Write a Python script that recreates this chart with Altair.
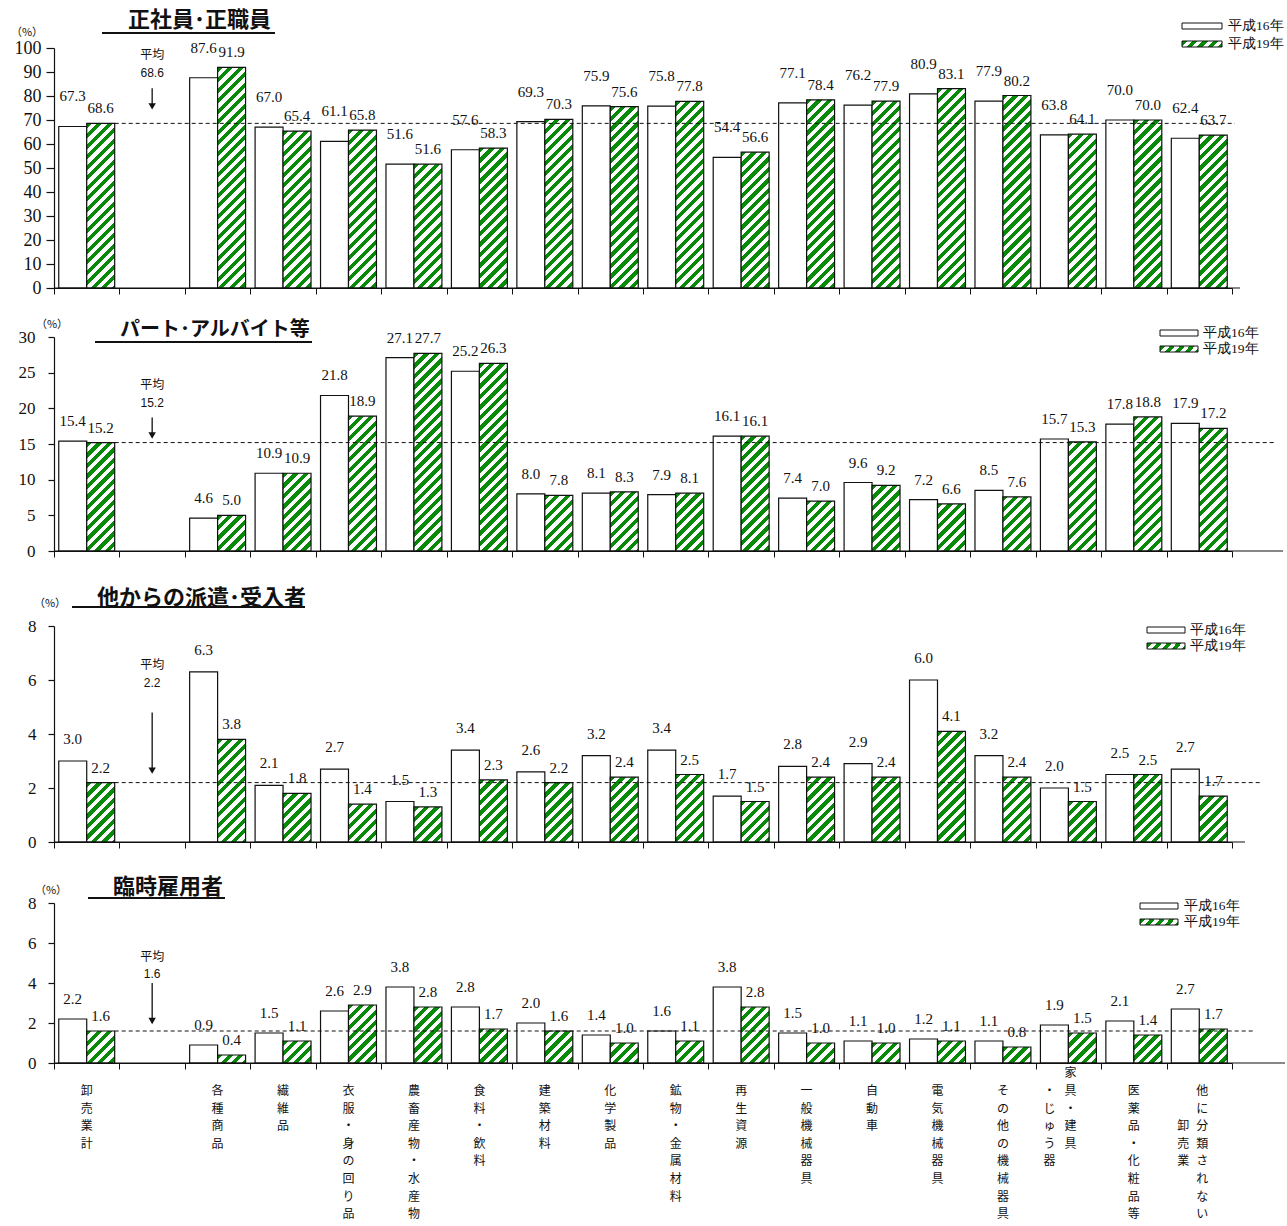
import altair as alt

SERIF = "Liberation Serif"
SANS = "Noto Sans CJK JP"
LATIN_SANS = "Liberation Sans"
INK = "#111111"
GREEN = "#078a07"

# x slots: the total, an empty slot, then the sixteen industries
categories = ["卸売業計", " ", "各種商品", "繊維品", "衣服・身の回り品", "農畜産物・水産物",
              "食料・飲料", "建築材料", "化学製品", "鉱物・金属材料", "再生資源", "一般機械器具",
              "自動車", "電気機械器具", "その他の機械器具", "家具・建具・じゅう器",
              "医薬品・化粧品等", "他に分類されない卸売業"]
industries = [c for c in categories if c.strip()]
years = ["平成16年", "平成19年"]

regular_h16 = [67.3, 87.6, 67.0, 61.1, 51.6, 57.6, 69.3, 75.9, 75.8, 54.4, 77.1, 76.2, 80.9, 77.9, 63.8, 70.0, 62.4]
regular_h19 = [68.6, 91.9, 65.4, 65.8, 51.6, 58.3, 70.3, 75.6, 77.8, 56.6, 78.4, 77.9, 83.1, 80.2, 64.1, 70.0, 63.7]
part_h16 = [15.4, 4.6, 10.9, 21.8, 27.1, 25.2, 8.0, 8.1, 7.9, 16.1, 7.4, 9.6, 7.2, 8.5, 15.7, 17.8, 17.9]
part_h19 = [15.2, 5.0, 10.9, 18.9, 27.7, 26.3, 7.8, 8.3, 8.1, 16.1, 7.0, 9.2, 6.6, 7.6, 15.3, 18.8, 17.2]
dispatch_h16 = [3.0, 6.3, 2.1, 2.7, 1.5, 3.4, 2.6, 3.2, 3.4, 1.7, 2.8, 2.9, 6.0, 3.2, 2.0, 2.5, 2.7]
dispatch_h19 = [2.2, 3.8, 1.8, 1.4, 1.3, 2.3, 2.2, 2.4, 2.5, 1.5, 2.4, 2.4, 4.1, 2.4, 1.5, 2.5, 1.7]
temp_h16 = [2.2, 0.9, 1.5, 2.6, 3.8, 2.8, 2.0, 1.4, 1.6, 3.8, 1.5, 1.1, 1.2, 1.1, 1.9, 2.1, 2.7]
temp_h19 = [1.6, 0.4, 1.1, 2.9, 2.8, 1.7, 1.6, 1.0, 1.1, 2.8, 1.0, 1.0, 1.1, 0.8, 1.5, 1.4, 1.7]

series = [(regular_h16, regular_h19), (part_h16, part_h19),
          (dispatch_h16, dispatch_h19), (temp_h16, temp_h19)]
titles = ["正社員･正職員", "パート･アルバイト等", "他からの派遣･受入者", "臨時雇用者"]
averages = [68.6, 15.2, 2.2, 1.6]
y_max = [100, 30, 8, 8]
y_step = [10, 5, 2, 2]

# vertical captions under the last panel; two of them are set in two columns
caption_single = [c for c in industries if c not in ("家具・建具・じゅう器", "他に分類されない卸売業")]
caption_split = [  # (category, column text, dx, starting line)
    ("家具・建具・じゅう器", "家具・建具", 2, -1),
    ("家具・建具・じゅう器", "・じゅう器", -19, 0),
    ("他に分類されない卸売業", "他に分類されない", 3, 0),
    ("他に分類されない卸売業", "卸売業", -16, 2),
]

W = 1178
SLOT = W / len(categories)
PAD_OUT = 0.17
BAR_W = SLOT / (2 + 2 * PAD_OUT)
CAPTION_LH = 17.6
CAPTION_SIZE = 12

# per-panel layout (pixels inside each panel)
LAYOUT = [
    dict(top=48, plot=240, title=(74, 20, 22), underline=(48, 221, 33), pct=(-27, 33),
         legend=(1128, 1168, 26, 44, 1174), avg_text=(-68, -50), arrow=(-35, -13),
         avg_end=1181, base_end=1186, white_dy=30, tick=8, lpad=5, lsize=18),
    dict(top=49, plot=214, title=(66, 42, 20), underline=(41, 258, 54), pct=(-2, 37),
         legend=(1106, 1144, 45, 61, 1149), avg_text=(-58, -40), arrow=(-25, -3),
         avg_end=1221, base_end=1229, white_dy=20, tick=6, lpad=13, lsize=17),
    dict(top=75, plot=216, title=(43, 47, 22), underline=(18, 251, 56), pct=(-4, 53),
         legend=(1093, 1131, 79, 95, 1136), avg_text=(-118, -100), arrow=(-70, -8),
         avg_end=1208, base_end=1191, white_dy=22, tick=6, lpad=12, lsize=17),
    dict(top=61, plot=160, title=(59, 45, 22), underline=(34, 171, 56), pct=(-3, 49),
         legend=(1086, 1124, 64, 80, 1130), avg_text=(-74, -57), arrow=(-48, -6),
         avg_end=1201, base_end=1231, white_dy=20, tick=6, lpad=12, lsize=17),
]


def hatch(w, h, period=10.5, frac=0.5):
    """'/' stripes as a linear gradient given in bounding-box units of a w x h rect."""
    span = w + h
    k = span / (w * w + h * h)
    stops, s = [], 0.0
    while s < span - 1e-9:
        a = round(s / span, 5)
        b = round(min(s + frac * period, span) / span, 5)
        c = round(min(s + period, span) / span, 5)
        stops += [{"offset": a, "color": GREEN}, {"offset": b, "color": GREEN},
                  {"offset": b, "color": "white"}, {"offset": c, "color": "white"}]
        s += period
    return {"gradient": "linear", "x1": 0, "y1": 0,
            "x2": round(k * w, 6), "y2": round(k * h, 6), "stops": stops}


LEGEND_HATCH = hatch(40, 6)


def panel(i):
    lay = LAYOUT[i]
    h16, h19 = series[i]
    ymax = y_max[i]
    top, H = lay["top"], lay["plot"]
    total = top + H

    white_rows = [{"cat": c, "year": years[0], "value": v} for c, v in zip(industries, h16)]
    green_rows = [{"cat": c, "year": years[1], "value": v,
                   "pattern": hatch(BAR_W, v / ymax * H)} for c, v in zip(industries, h19)]
    avg_data = alt.InlineData(values=[{"cat": " ", "avg": averages[i]}])
    ann = alt.InlineData(values=[{"title": titles[i]}])

    x_axis = alt.Axis(labels=False, title=None, tickBand="extent", grid=False,
                      domainColor=INK, tickColor=INK, tickSize=6, domainWidth=1.2, tickWidth=1)
    x_scale = alt.Scale(domain=categories, paddingInner=0, paddingOuter=0)
    x = alt.X("cat:N", scale=x_scale, axis=x_axis)
    xo = alt.XOffset("year:N", scale=alt.Scale(domain=years, paddingInner=0, paddingOuter=PAD_OUT))
    y_scale = alt.Scale(domain=[0, ymax], range=[total, top], nice=False, zero=True)
    y_axis = alt.Axis(values=list(range(0, ymax + 1, y_step[i])), title=None, grid=False,
                      labelFont=SERIF, labelFontSize=lay["lsize"], labelColor=INK,
                      labelPadding=lay["lpad"], tickSize=lay["tick"], tickColor=INK,
                      domainColor=INK, domainWidth=1.2, tickWidth=1.2)
    y = alt.Y("value:Q", scale=y_scale, axis=y_axis, stack=None)
    ya = alt.Y("avg:Q", scale=y_scale, axis=y_axis)

    bars_16 = alt.Chart(alt.InlineData(values=white_rows)).mark_bar(
        fill="white", stroke=INK, strokeWidth=1.2).encode(x=x, xOffset=xo, y=y)
    bars_19 = alt.Chart(alt.InlineData(values=green_rows)).mark_bar(
        stroke=INK, strokeWidth=1.2).encode(
        x=x, xOffset=xo, y=y, fill=alt.Fill("pattern:N", scale=None, legend=None))

    text_16 = alt.Chart(alt.InlineData(values=white_rows)).mark_text(
        font=SERIF, fontSize=15, color=INK, baseline="middle", dy=-lay["white_dy"]).encode(
        x=x, xOffset=xo, y=y, text=alt.Text("value:Q", format=".1f"))
    text_19 = alt.Chart(alt.InlineData(values=green_rows)).mark_text(
        font=SERIF, fontSize=15, color=INK, baseline="middle", dy=-15).encode(
        x=x, xOffset=xo, y=y, text=alt.Text("value:Q", format=".1f"))

    # average: dashed reference line, arrow and caption in the empty slot
    avg_line = alt.Chart(avg_data).mark_rule(color=INK, strokeDash=[4, 3], strokeWidth=1).encode(
        y=ya, x=alt.value(SLOT - PAD_OUT * BAR_W), x2=alt.value(lay["avg_end"]))
    a_top, a_tip = lay["arrow"]
    arrow = alt.Chart(avg_data).mark_rule(color=INK, strokeWidth=1.3,
                                          yOffset=a_top, y2Offset=a_tip - 5).encode(
        x=x, y=ya, y2="avg:Q")
    head = alt.Chart(avg_data).mark_point(shape="triangle-down", filled=True, color=INK,
                                          opacity=1, size=55, yOffset=a_tip - 4).encode(x=x, y=ya)
    t1, t2 = lay["avg_text"]
    avg_word = alt.Chart(avg_data).mark_text(font=SANS, fontSize=12, color=INK,
                                             baseline="middle", dy=t1).encode(
        x=x, y=ya, text=alt.value("平均"))
    avg_num = alt.Chart(avg_data).mark_text(font=LATIN_SANS, fontSize=12, color=INK,
                                            baseline="middle", dy=t2).encode(
        x=x, y=ya, text=alt.Text("avg:Q", format=".1f"))

    # title with underline, unit caption
    tx, ty, tsize = lay["title"]
    title = alt.Chart(ann).mark_text(font=SANS, fontSize=tsize, fontWeight="bold", color=INK,
                                     align="left", baseline="middle").encode(
        x=alt.value(tx), y=alt.value(ty), text="title:N")
    u0, u1, uy = lay["underline"]
    underline = alt.Chart(ann).mark_rule(color=INK, strokeWidth=2).encode(
        x=alt.value(u0), x2=alt.value(u1), y=alt.value(uy))
    px, py = lay["pct"]
    pct = alt.Chart(ann).mark_text(font=SANS, fontSize=11, color=INK, baseline="middle").encode(
        x=alt.value(px), y=alt.value(py), text=alt.value("（%）"))

    # legend
    lx0, lx1, ly1, ly2, ltx = lay["legend"]
    sw16 = alt.Chart(ann).mark_rect(fill="white", stroke=INK, strokeWidth=1).encode(
        x=alt.value(lx0), x2=alt.value(lx1), y=alt.value(ly1 - 3), y2=alt.value(ly1 + 3))
    sw19 = alt.Chart(ann).mark_rect(fill=LEGEND_HATCH, stroke=INK, strokeWidth=1).encode(
        x=alt.value(lx0), x2=alt.value(lx1), y=alt.value(ly2 - 3), y2=alt.value(ly2 + 3))
    lt16 = alt.Chart(ann).mark_text(font=SERIF, fontSize=13.5, color=INK, align="left",
                                    baseline="middle").encode(
        x=alt.value(ltx), y=alt.value(ly1), text=alt.value(years[0]))
    lt19 = alt.Chart(ann).mark_text(font=SERIF, fontSize=13.5, color=INK, align="left",
                                    baseline="middle").encode(
        x=alt.value(ltx), y=alt.value(ly2), text=alt.value(years[1]))

    baseline = alt.Chart(ann).mark_rule(color=INK, strokeWidth=1.2).encode(
        x=alt.value(0), x2=alt.value(lay["base_end"]), y=alt.value(total))

    layers = [bars_16, bars_19, avg_line, text_16, text_19, arrow, head, avg_word, avg_num,
              title, underline, pct, sw16, sw19, lt16, lt19, baseline]

    if i == 0:
        # keeps the page's left margin fixed
        layers.append(alt.Chart(ann).mark_rect(fill="white").encode(
            x=alt.value(-54), x2=alt.value(-53), y=alt.value(0), y2=alt.value(1)))

    if i == len(LAYOUT) - 1:
        cap_top = total + 23
        single = [{"cat": c, "label": "\n".join(c)} for c in caption_single]
        layers.append(alt.Chart(alt.InlineData(values=single)).mark_text(
            font=SANS, fontSize=CAPTION_SIZE, color=INK, baseline="top", lineBreak="\n",
            lineHeight=CAPTION_LH).encode(x=x, y=alt.value(cap_top), text="label:N"))
        for cat, col, dx, line in caption_split:
            layers.append(alt.Chart(alt.InlineData(values=[{"cat": cat, "label": "\n".join(col)}])).mark_text(
                font=SANS, fontSize=CAPTION_SIZE, color=INK, baseline="top", lineBreak="\n",
                lineHeight=CAPTION_LH, dx=dx).encode(
                x=x, y=alt.value(cap_top + line * CAPTION_LH), text="label:N"))

    return alt.layer(*layers).properties(width=W, height=total)


chart = alt.vconcat(*[panel(i) for i in range(4)], spacing=0, bounds="flush").properties(
    padding=0, autosize=alt.AutoSizeParams(type="pad")
).configure(background="white").configure_view(stroke=None)

chart.save("out.html", embed_options={"renderer": "svg", "actions": False})
